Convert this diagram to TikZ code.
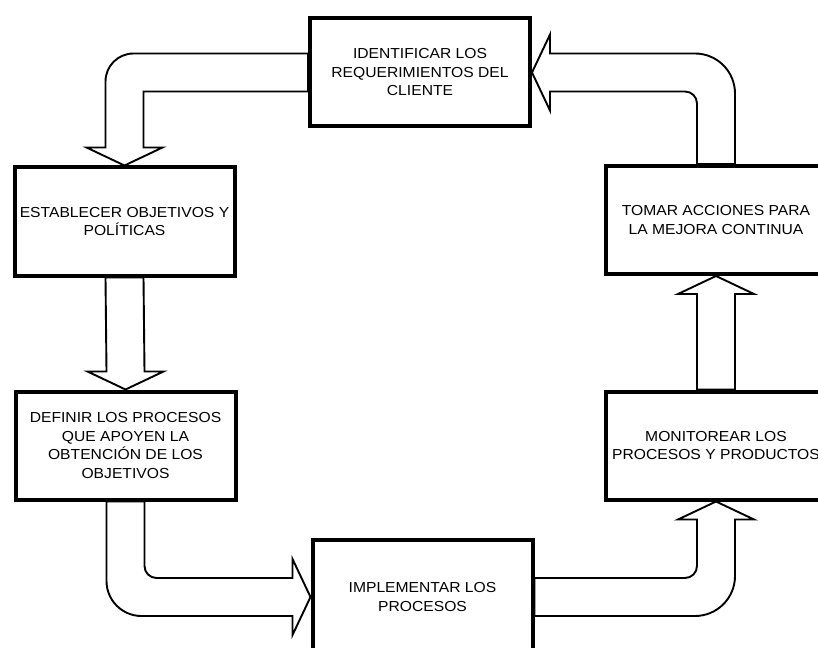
\documentclass[tikz,border=0pt]{standalone}
\usepackage{fontspec}
\setmainfont{Liberation Sans}[FakeStretch=1.08]
\usetikzlibrary{calc,backgrounds}
\begin{document}
\begin{tikzpicture}[x=1pt,y=-1pt,
  stage/.style={draw=black, line width=4pt, fill=white,
    minimum width=220pt, minimum height=108pt, inner sep=0pt,
    align=center, font=\fontsize{14.5}{18.5}\selectfont},
  blockarrow/.style={draw=black, line width=1.9pt, fill=white, line join=miter}]
\useasboundingbox (0,0) rectangle (818,647);
\clip (0,0) rectangle (818,647);

% process stages
\node[stage] (A) at (420,72.5)  {IDENTIFICAR LOS\\REQUERIMIENTOS DEL\\CLIENTE};
\node[stage] (B) at (124.5,221.5) {ESTABLECER OBJETIVOS Y\\POLÍTICAS};
\node[stage] (C) at (125.5,445.5) {DEFINIR LOS PROCESOS\\QUE APOYEN LA\\OBTENCIÓN DE LOS\\OBJETIVOS};
\node[stage, minimum height=114pt] (D) at (422.5,597) {IMPLEMENTAR LOS\\PROCESOS};
\node[stage] (E) at (716,445.5) {MONITOREAR LOS\\PROCESOS Y PRODUCTOS};
\node[stage] (F) at (716,220)   {TOMAR ACCIONES PARA\\LA MEJORA CONTINUA};

\begin{scope}[on background layer]
  % bend points of the cycle
  \coordinate (ab) at (B.center |- A.west);
  \coordinate (cd) at (C.center |- D.west);
  \coordinate (de) at (E.center |- D.east);
  \coordinate (fa) at (F.center |- A.east);

  % A -> B
  \draw[blockarrow]
    ($(A.west)+(0,-19)$) -- ($(ab)+(9,-19)$)
    .. controls ($(ab)+(-6.5,-19)$) and ($(ab)+(-19,-6.5)$) .. ($(ab)+(-19,9)$)
    -- ($(B.north)+(-19,-18)$) -- ($(B.north)+(-38,-18)$) -- (B.north)
    -- ($(B.north)+(38,-18)$) -- ($(B.north)+(19,-18)$)
    -- ($(ab)+(19,19)$) -- ($(A.west)+(0,19)$) -- cycle;

  % B -> C
  \draw[blockarrow]
    ($(B.south)+(-19,0)$) -- ($(C.north)+(-19,-18)$) -- ($(C.north)+(-38,-18)$)
    -- (C.north) -- ($(C.north)+(38,-18)$) -- ($(C.north)+(19,-18)$)
    -- ($(B.south)+(19,0)$) -- cycle;

  % C -> D
  \draw[blockarrow]
    ($(C.south)+(-19,0)$) -- ($(cd)+(-19,-16)$)
    .. controls ($(cd)+(-19,3.3)$) and ($(cd)+(-3.3,19)$) .. ($(cd)+(16,19)$)
    -- ($(D.west)+(-18,19)$) -- ($(D.west)+(-18,38)$) -- (D.west)
    -- ($(D.west)+(-18,-38)$) -- ($(D.west)+(-18,-19)$)
    -- ($(cd)+(31,-19)$)
    .. controls ($(cd)+(24.4,-19)$) and ($(cd)+(19,-24.4)$) .. ($(cd)+(19,-31)$)
    -- ($(C.south)+(19,0)$) -- cycle;

  % D -> E
  \draw[blockarrow]
    ($(D.east)+(0,-19)$) -- ($(de)+(-31,-19)$)
    .. controls ($(de)+(-24.4,-19)$) and ($(de)+(-19,-24.4)$) .. ($(de)+(-19,-31)$)
    -- ($(E.south)+(-19,18)$) -- ($(E.south)+(-38,18)$) -- (E.south)
    -- ($(E.south)+(38,18)$) -- ($(E.south)+(19,18)$)
    -- ($(de)+(19,-21)$)
    .. controls ($(de)+(19,1.1)$) and ($(de)+(1.1,19)$) .. ($(de)+(-21,19)$)
    -- ($(D.east)+(0,19)$) -- cycle;

  % E -> F
  \draw[blockarrow]
    ($(E.north)+(-19,0)$) -- ($(F.south)+(-19,18)$) -- ($(F.south)+(-38,18)$)
    -- (F.south) -- ($(F.south)+(38,18)$) -- ($(F.south)+(19,18)$)
    -- ($(E.north)+(19,0)$) -- cycle;

  % F -> A
  \draw[blockarrow]
    ($(F.north)+(19,0)$) -- ($(fa)+(19,21)$)
    .. controls ($(fa)+(19,-1.1)$) and ($(fa)+(1.1,-19)$) .. ($(fa)+(-21,-19)$)
    -- ($(A.east)+(18,-19)$) -- ($(A.east)+(18,-38)$) -- (A.east)
    -- ($(A.east)+(18,38)$) -- ($(A.east)+(18,19)$)
    -- ($(fa)+(-31,19)$)
    .. controls ($(fa)+(-24.4,19)$) and ($(fa)+(-19,24.4)$) .. ($(fa)+(-19,31)$)
    -- ($(F.north)+(-19,0)$) -- cycle;
\end{scope}
\end{tikzpicture}
\end{document}
